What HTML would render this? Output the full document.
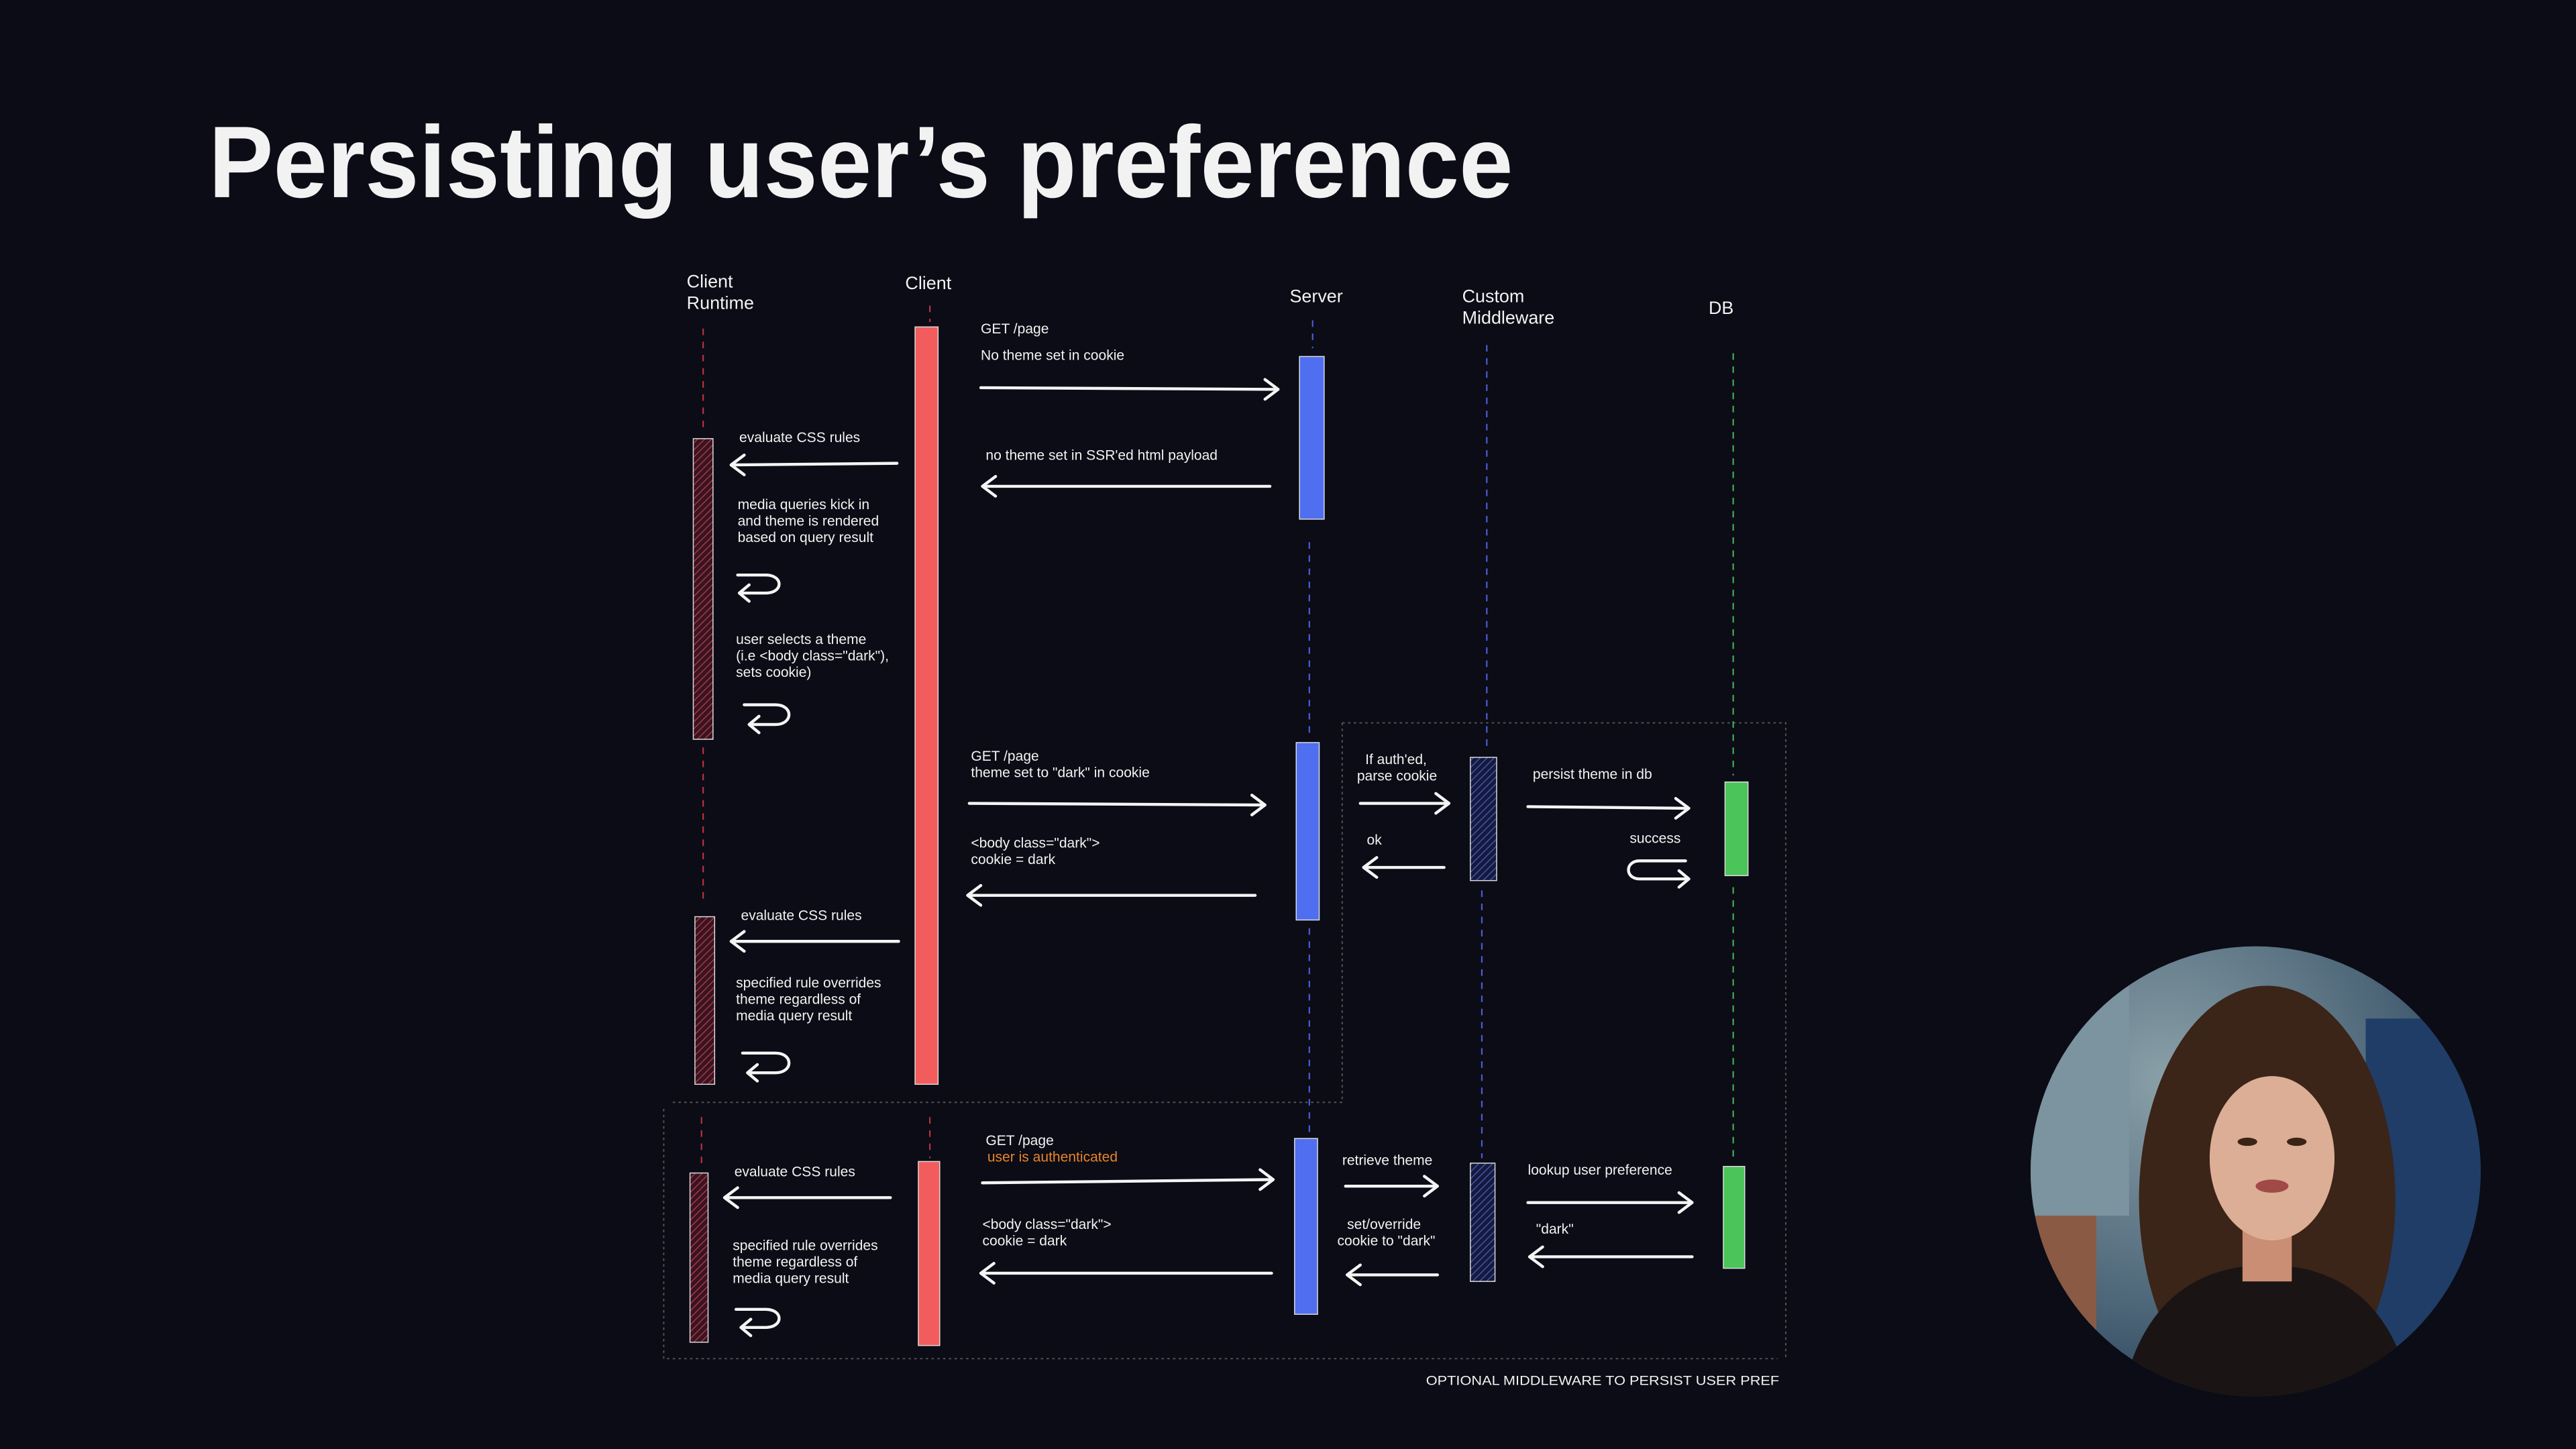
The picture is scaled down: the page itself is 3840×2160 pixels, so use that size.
<!DOCTYPE html>
<html><head><meta charset="utf-8"><style>
html,body{margin:0;padding:0;background:#0b0c15;}
svg{display:block}
text{font-family:"Liberation Sans Narrow","Liberation Sans",sans-serif;fill:#f2f2f2;font-size:8.6px}
</style></head><body>
<svg width="3840" height="2160" viewBox="0 0 1568 882" xmlns="http://www.w3.org/2000/svg">
<defs>
<pattern id="hr" width="3" height="3" patternUnits="userSpaceOnUse" patternTransform="rotate(45)"><rect width="3" height="3" fill="#3a1420"/><line x1="0" y1="0" x2="0" y2="3" stroke="#a23a4c" stroke-width="1.2"/></pattern>
<pattern id="hb" width="3" height="3" patternUnits="userSpaceOnUse" patternTransform="rotate(45)"><rect width="3" height="3" fill="#141a40"/><line x1="0" y1="0" x2="0" y2="3" stroke="#4a55a0" stroke-width="1.2"/></pattern>
<clipPath id="cc"><circle cx="1373" cy="713" r="137"/></clipPath>
<radialGradient id="bg1" cx="0.3" cy="0.3" r="0.8"><stop offset="0" stop-color="#8aa0a8"/><stop offset="0.6" stop-color="#4d6678"/><stop offset="1" stop-color="#1d3552"/></radialGradient>
</defs>
<rect width="1568" height="882" fill="#0b0c15"/>
<text x="127" y="120" style="font-family:'Liberation Sans',sans-serif;font-size:62px;font-weight:bold" textLength="794" lengthAdjust="spacingAndGlyphs">Persisting user’s preference</text>

<!-- dotted boxes -->
<g fill="none" stroke="#555" stroke-width="0.8" stroke-dasharray="1.5 2">
<path d="M817,440 H1087 V826"/>
<path d="M817,440 V671 H408"/>
<path d="M404,675 V827 H1082"/>
</g>

<!-- lifelines -->
<g stroke-width="0.9" stroke-dasharray="4 4" fill="none">
<path stroke="#b8323f" d="M428,200V262 M428,455V548 M427,680V710"/>
<path stroke="#b8323f" d="M566,186V196 M566,680V705"/>
<path stroke="#4a5cd6" d="M799,195V212 M797,330V450 M797,565V690"/>
<path stroke="#4a5cd6" d="M905,210V458 M902,542V705"/>
<path stroke="#3fae55" d="M1055,215V472 M1055,540V706"/>
</g>

<!-- headers -->
<text x="418" y="175" style="font-size:11px">Client</text>
<text x="418" y="188" style="font-size:11px">Runtime</text>
<text x="551" y="176" style="font-size:11px">Client</text>
<text x="785" y="184" style="font-size:11px">Server</text>
<text x="890" y="184" style="font-size:11px">Custom</text>
<text x="890" y="197" style="font-size:11px">Middleware</text>
<text x="1040" y="191" style="font-size:11px">DB</text>

<!-- bars -->
<g stroke="#ddd" stroke-width="0.6">
<rect x="557" y="199" width="14" height="461" fill="#f25c5c"/>
<rect x="559" y="707" width="13" height="112" fill="#f25c5c"/>
<rect x="791" y="217" width="15" height="99" fill="#4f6ef0"/>
<rect x="789" y="452" width="14" height="108" fill="#4f6ef0"/>
<rect x="788" y="693" width="14" height="107" fill="#4f6ef0"/>
<rect x="895" y="461" width="16" height="75" fill="url(#hb)"/>
<rect x="895" y="708" width="15" height="72" fill="url(#hb)"/>
<rect x="1050" y="476" width="14" height="57" fill="#4bc45a"/>
<rect x="1049" y="710" width="13" height="62" fill="#4bc45a"/>
<rect x="422" y="267" width="12" height="183" fill="url(#hr)"/>
<rect x="423" y="558" width="12" height="102" fill="url(#hr)"/>
<rect x="420" y="714" width="11" height="103" fill="url(#hr)"/>
</g>

<!-- arrows -->
<g stroke="#f4f4f4" stroke-width="1.8" fill="none" stroke-linecap="round" stroke-linejoin="round">
<path d="M597,236L778,237M770,231L778,237L770,243"/>
<path d="M773,296L598,296M606,290L598,296L606,302"/>
<path d="M546,282L445,283M453,277L445,283L453,289"/>
<path d="M590,489L770,490M762,484L770,490L762,496"/>
<path d="M764,545L589,545M597,539L589,545L597,551"/>
<path d="M828,489L882,489M874,483L882,489L874,495"/>
<path d="M879,528L830,528M838,522L830,528L838,534"/>
<path d="M930,491L1028,492M1020,486L1028,492L1020,498"/>
<path d="M547,573L445,573M453,567L445,573L453,579"/>
<path d="M598,720L775,718M767,712L775,718L767,724"/>
<path d="M774,775L597,775M605,769L597,775L605,781"/>
<path d="M542,729L441,729M449,723L441,729L449,735"/>
<path d="M819,722L875,722M867,716L875,722L867,728"/>
<path d="M875,776L820,776M828,770L820,776L828,782"/>
<path d="M930,732L1030,732M1022,726L1030,732L1022,738"/>
<path d="M1030,765L931,765M939,759L931,765L939,771"/>
<!-- self loops -->
<path d="M449,350H466C477,350 477,361 466,361H450M456,356L450,361L456,366"/>
<path d="M453,429H472C483,429 483,441 472,441H456M462,436L456,441L462,446"/>
<path d="M452,641H472C483,641 483,653 472,653H455M461,648L455,653L461,658"/>
<path d="M448,797H466C477,797 477,808 466,808H451M457,803L451,808L457,813"/>
<path d="M1026,524H998C989,524 989,535 998,535H1028M1022,530L1028,535L1022,540"/>
</g>

<!-- labels -->
<text x="597" y="203">GET /page</text>
<text x="597" y="219">No theme set in cookie</text>
<text x="600" y="280">no theme set in SSR'ed html payload</text>
<text x="450" y="269">evaluate CSS rules</text>
<text x="449" y="310">media queries kick in</text>
<text x="449" y="320">and theme is rendered</text>
<text x="449" y="330">based on query result</text>
<text x="448" y="392">user selects a theme</text>
<text x="448" y="402">(i.e &lt;body class="dark"),</text>
<text x="448" y="412">sets cookie)</text>
<text x="591" y="463">GET /page</text>
<text x="591" y="473">theme set to "dark" in cookie</text>
<text x="591" y="516">&lt;body class="dark"&gt;</text>
<text x="591" y="526">cookie = dark</text>
<text x="831" y="465">If auth'ed,</text>
<text x="826" y="475">parse cookie</text>
<text x="832" y="514">ok</text>
<text x="933" y="474">persist theme in db</text>
<text x="992" y="513">success</text>
<text x="451" y="560">evaluate CSS rules</text>
<text x="448" y="601">specified rule overrides</text>
<text x="448" y="611">theme regardless of</text>
<text x="448" y="621">media query result</text>
<text x="600" y="697">GET /page</text>
<text x="601" y="707" style="fill:#e8832a">user is authenticated</text>
<text x="598" y="748">&lt;body class="dark"&gt;</text>
<text x="598" y="758">cookie = dark</text>
<text x="447" y="716">evaluate CSS rules</text>
<text x="446" y="761">specified rule overrides</text>
<text x="446" y="771">theme regardless of</text>
<text x="446" y="781">media query result</text>
<text x="817" y="709">retrieve theme</text>
<text x="820" y="748">set/override</text>
<text x="814" y="758">cookie to "dark"</text>
<text x="930" y="715">lookup user preference</text>
<text x="935" y="751">"dark"</text>
<text x="868" y="843" style="font-size:8px" textLength="215" lengthAdjust="spacingAndGlyphs">OPTIONAL MIDDLEWARE TO PERSIST USER PREF</text>

<!-- webcam -->
<g clip-path="url(#cc)">
<rect x="1230" y="570" width="290" height="290" fill="url(#bg1)"/>
<rect x="1236" y="600" width="60" height="140" fill="#7c93a0"/>
<rect x="1440" y="620" width="80" height="200" fill="#1f3d66"/>
<rect x="1236" y="740" width="40" height="120" fill="#8a5a44"/>
<ellipse cx="1380" cy="730" rx="78" ry="130" fill="#3b2418"/>
<path d="M1290,860 C1300,790 1340,770 1380,770 C1420,770 1460,790 1470,860Z" fill="#1a1414"/>
<rect x="1365" y="740" width="30" height="40" fill="#c98e74"/>
<ellipse cx="1383" cy="705" rx="38" ry="50" fill="#dcae95"/>
<ellipse cx="1383" cy="722" rx="10" ry="4" fill="#a04a48"/>
<ellipse cx="1368" cy="695" rx="6" ry="2.5" fill="#3a2418"/>
<ellipse cx="1398" cy="695" rx="6" ry="2.5" fill="#3a2418"/>
</g>
</svg>
</body></html>
